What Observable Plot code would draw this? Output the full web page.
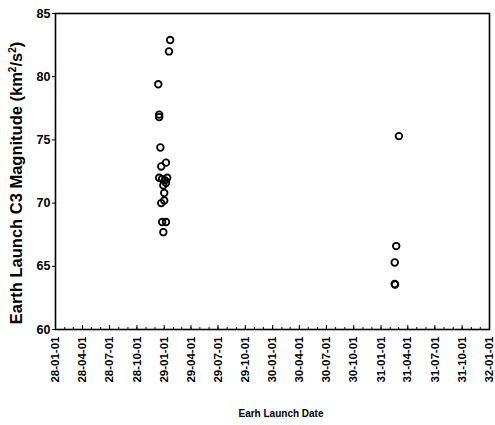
<!DOCTYPE html>
<html>
<head>
<meta charset="utf-8">
<script src="https://cdn.jsdelivr.net/npm/d3@7"></script>
<script src="https://cdn.jsdelivr.net/npm/@observablehq/plot@0.6"></script>
<style>
  body { margin: 0; background: #fff; }
  #chart svg { display: block; }
</style>
</head>
<body>
<div id="chart"></div>
<script>
// Launch opportunities: Earth departure date and the C3 needed for it
const launchDates = [
  "2029-01-21", "2029-01-17", "2028-12-12", "2028-12-15", "2028-12-15",
  "2028-12-19", "2028-12-22", "2029-01-07", "2028-12-15", "2028-12-25",
  "2029-01-04", "2029-01-11", "2029-01-07", "2028-12-29", "2029-01-01",
  "2028-12-22", "2029-01-01", "2028-12-25", "2029-01-07", "2028-12-29",
  "2031-03-02", "2031-02-21", "2031-02-16", "2031-02-16", "2031-02-17"
];
const c3Values = [
  82.9, 82.0, 79.4, 77.0, 76.8,
  74.4, 72.9, 73.2, 72.0, 71.9,
  71.8, 72.0, 71.6, 71.4, 70.8,
  70.0, 70.2, 68.5, 68.5, 67.7,
  75.3, 66.6, 65.3, 63.6, 63.55
];

// Axis ticks
const yTicks = [60, 65, 70, 75, 80, 85];
const xTickLabels = [
  "28-01-01", "28-04-01", "28-07-01", "28-10-01",
  "29-01-01", "29-04-01", "29-07-01", "29-10-01",
  "30-01-01", "30-04-01", "30-07-01", "30-10-01",
  "31-01-01", "31-04-01", "31-07-01", "31-10-01",
  "32-01-01"
];

const parseDay = d3.utcParse("%Y-%m-%d");
const parseTick = d3.utcParse("%y-%m-%d");
const fmtTick = d3.utcFormat("%y-%m-%d");

const points = launchDates.map((d, i) => ({date: parseDay(d), c3: c3Values[i]}));
const majorTicks = xTickLabels.map(parseTick);
const xDomain = [majorTicks[0], majorTicks[majorTicks.length - 1]];
const minorTicks = d3.utcMonth.range(xDomain[0], xDomain[1]);

const W = 495, H = 425;
const M = {top: 13, right: 6, bottom: 96, left: 55};
const innerH = H - M.top - M.bottom;

const chart = Plot.plot({
  width: W,
  height: H,
  marginTop: M.top,
  marginRight: M.right,
  marginBottom: M.bottom,
  marginLeft: M.left,
  style: {
    fontFamily: "'Liberation Sans', Arial, sans-serif",
    fontSize: "12px",
    fontWeight: "bold",
    color: "black",
    background: "white"
  },
  x: {type: "utc", domain: xDomain},
  y: {domain: [60, 85]},
  marks: [
    Plot.axisY({ticks: yTicks, tickSize: 3, tickPadding: 2, label: null, tickFormat: d => d, fontSize: 12.5}),
    Plot.axisX({
      ticks: majorTicks, tickSize: 0, tickPadding: 7, tickRotate: -90,
      tickFormat: fmtTick, label: null, fontSize: 11.5
    }),
    // inward ticks along the bottom edge
    Plot.tickX(minorTicks, {x: d => d, insetTop: innerH - 2, stroke: "black", strokeWidth: 1}),
    Plot.tickX(majorTicks, {x: d => d, insetTop: innerH - 4, stroke: "black", strokeWidth: 1}),
    Plot.frame({stroke: "black", strokeWidth: 1.6}),
    Plot.dot(points, {
      x: "date", y: "c3", r: 3.3,
      stroke: "black", strokeWidth: 1.8, fill: "none"
    })
  ]
});

document.getElementById("chart").appendChild(chart);

// Axis titles
const svg = d3.select(chart);
const yTitle = svg.append("text")
  .attr("transform", "translate(22,183) rotate(-90)")
  .attr("text-anchor", "middle")
  .style("font-size", "16.5px")
  .style("font-weight", "bold")
  .attr("fill", "black");
yTitle.append("tspan").text("Earth Launch C3 Magnitude (km");
yTitle.append("tspan").attr("dy", -6).style("font-size", "10px").text("2");
yTitle.append("tspan").attr("dy", 6).text("/s");
yTitle.append("tspan").attr("dy", -6).style("font-size", "10px").text("2");
yTitle.append("tspan").attr("dy", 6).text(")");

svg.append("text")
  .attr("x", 281)
  .attr("y", 417)
  .attr("text-anchor", "middle")
  .style("font-size", "10px")
  .style("font-weight", "bold")
  .attr("fill", "black")
  .text("Earh Launch Date");
</script>
</body>
</html>
